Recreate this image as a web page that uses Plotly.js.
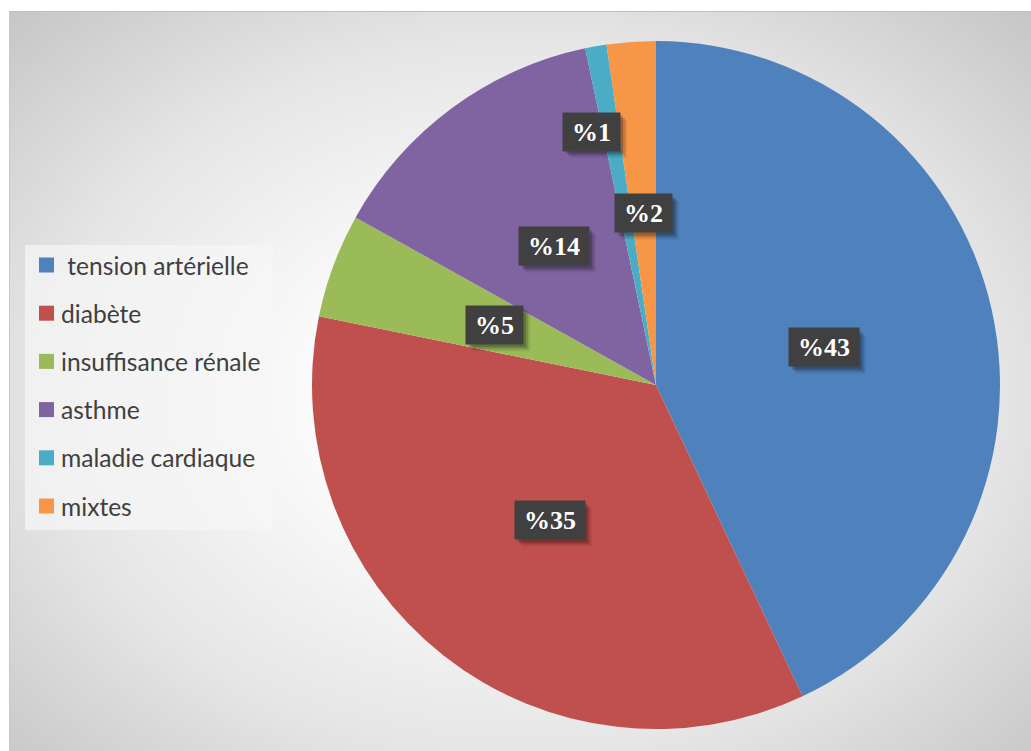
<!DOCTYPE html>
<html>
<head>
<meta charset="utf-8">
<script src="https://cdn.plot.ly/plotly-3.0.1.min.js"></script>
<style>
  html, body { margin: 0; padding: 0; background: #ffffff; }
  #bg {
    position: absolute; left: 9px; top: 11px; width: 1022px; height: 740px;
    border-top: 1px solid #bdbdbd; border-left: 1px solid #c8c8c8;
    background: radial-gradient(ellipse farthest-corner at 50% 52%, #ffffff 0%, #fafafa 30%, #e6e6e6 65%, #c6c6c6 100%);
  }
  #chart { position: absolute; left: 0; top: 0; width: 1031px; height: 751px; }
</style>
</head>
<body>
<div id="bg"></div>
<div id="chart"></div>
<script>
// ---- data ----
const categories = ['\u00a0tension artérielle', 'diabète', 'insuffisance rénale', 'asthme', 'maladie cardiaque', 'mixtes'];
const values = [43, 35.2, 4.9, 13.6, 1.0, 2.3];
const colors = ['#4F81BD', '#C0504D', '#9BBB59', '#8064A2', '#4BACC6', '#F79646'];

// ---- layout constants ----
const W = 1031, H = 751;
const domX = [312 / W, 1000 / W];
const domY = [1 - 729 / H, 1 - 41 / H];
// label placement tweaks (radius fraction, angle shift in degrees)
const labelRadius = [0.5, 0.5, 0.5, 0.5, 0.76, 0.5];
const labelShift = [0, 0, 0, 0, -4.2, 0];
const labelFont = 26;

const total = values.reduce((a, b) => a + b, 0);
const labelText = values.map(v => '%' + Math.round(v / total * 100 + 1e-9));

const cxPx = (domX[0] + domX[1]) / 2 * W;
const cyPx = (1 - (domY[0] + domY[1]) / 2) * H;
const R = Math.min((domX[1] - domX[0]) * W, (domY[1] - domY[0]) * H) / 2;

const annotations = [];
const shapes = [];
let cum = 0;
const labelPos = values.map((v, i) => {
  const mid = (cum + v / 2) / total * 360 + labelShift[i];
  cum += v;
  const a = mid * Math.PI / 180;
  const r = R * labelRadius[i];
  return [cxPx + r * Math.sin(a), cyPx - r * Math.cos(a)];
});

// shadows drawn as shapes behind the label boxes
labelPos.forEach((p, i) => {
  const bw = labelFont * (1.0 + 0.5 * (labelText[i].length - 1)) + 18;
  const bh = 38;
  [[7, 'rgba(0,0,0,0.08)'], [5, 'rgba(0,0,0,0.14)'], [3, 'rgba(0,0,0,0.20)']].forEach(s => {
    const x0 = p[0] - bw / 2 + s[0], x1 = p[0] + bw / 2 + s[0];
    const y0 = p[1] - bh / 2 + s[0], y1 = p[1] + bh / 2 + s[0];
    shapes.push({
      type: 'rect', xref: 'paper', yref: 'paper', layer: 'above',
      x0: x0 / W, x1: x1 / W, y0: 1 - y1 / H, y1: 1 - y0 / H,
      fillcolor: s[1], line: { width: 0 }
    });
  });
});
// labels
labelPos.forEach((p, i) => {
  annotations.push({
    xref: 'paper', yref: 'paper', x: p[0] / W, y: 1 - p[1] / H,
    xanchor: 'center', yanchor: 'middle', showarrow: false,
    text: '<b>' + labelText[i] + '</b>',
    font: { family: 'Liberation Serif, Times New Roman, serif', size: labelFont, color: '#ffffff' },
    bgcolor: '#404040', borderpad: 9, height: 20
  });
});

// manual legend
shapes.unshift({
  type: 'rect', xref: 'paper', yref: 'paper', layer: 'below',
  x0: 25 / W, x1: 273 / W, y0: 1 - 530 / H, y1: 1 - 245 / H,
  fillcolor: 'rgba(246,246,246,0.7)', line: { width: 0 }
});
const legTop = 265, legStep = 48.2;
categories.forEach((c, i) => {
  const y = legTop + i * legStep;
  shapes.push({
    type: 'rect', xref: 'paper', yref: 'paper',
    x0: 39 / W, x1: 54 / W, y0: 1 - (y + 7.5) / H, y1: 1 - (y - 7.5) / H,
    fillcolor: colors[i], line: { width: 0 }
  });
  annotations.push({
    xref: 'paper', yref: 'paper', x: 59 / W, y: 1 - y / H,
    xanchor: 'left', yanchor: 'middle', showarrow: false,
    text: c,
    font: { family: 'Lato, Open Sans, sans-serif', size: 24.6, color: '#404040' }
  });
});

const trace = {
  type: 'pie',
  labels: categories,
  values: values,
  sort: false,
  direction: 'clockwise',
  rotation: 0,
  textinfo: 'none',
  hoverinfo: 'label+percent',
  marker: { colors: colors, line: { width: 0 } },
  domain: { x: domX, y: domY },
  showlegend: false
};

const layout = {
  width: W, height: H,
  margin: { l: 0, r: 0, t: 0, b: 0 },
  paper_bgcolor: 'rgba(0,0,0,0)',
  plot_bgcolor: 'rgba(0,0,0,0)',
  showlegend: false,
  annotations: annotations,
  shapes: shapes
};

Plotly.newPlot('chart', [trace], layout, { displayModeBar: false, staticPlot: true });
</script>
</body>
</html>
